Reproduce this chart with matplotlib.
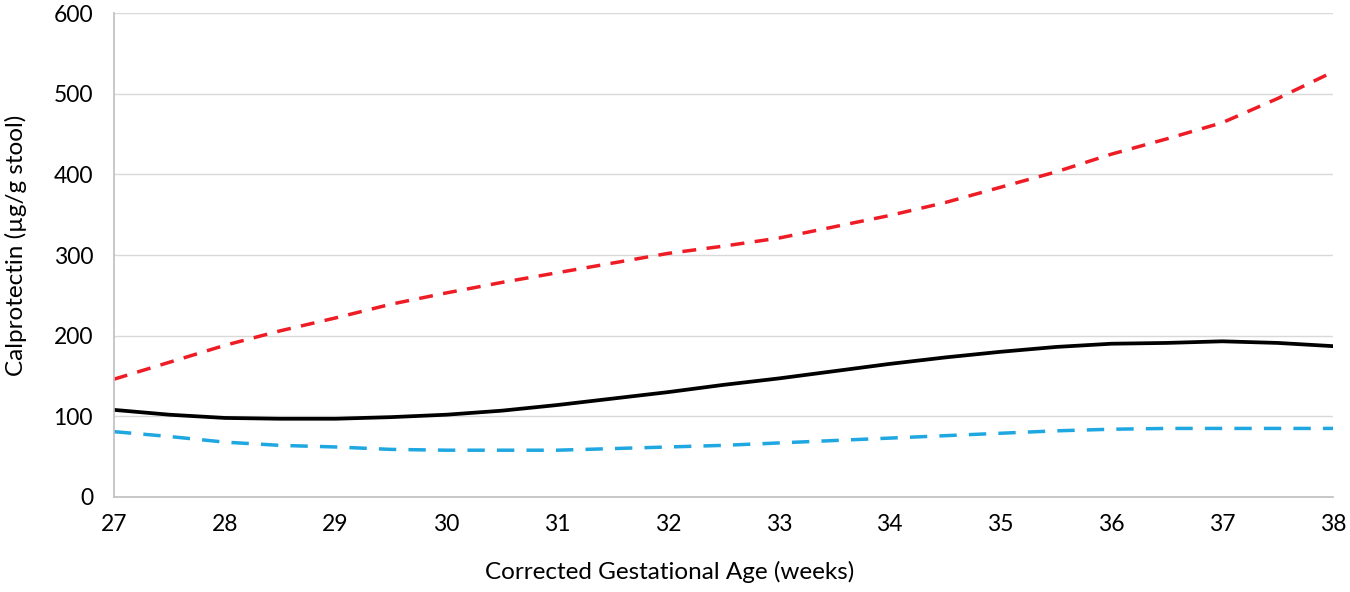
import matplotlib
matplotlib.use("Agg")
import matplotlib.pyplot as plt

plt.rcParams['font.family'] = ['Lato', 'DejaVu Sans']

# corrected gestational age (weeks), half-week steps
weeks = [27, 27.5, 28, 28.5, 29, 29.5, 30, 30.5, 31, 31.5, 32, 32.5,
         33, 33.5, 34, 34.5, 35, 35.5, 36, 36.5, 37, 37.5, 38]

upper = [146, 167, 188, 206, 222, 239, 253, 266, 278, 290, 302, 311,
         321, 335, 349, 365, 384, 403, 425, 444, 464, 494, 527]
median = [108, 102, 98, 97, 97, 99, 102, 107, 114, 122, 130, 139,
          147, 156, 165, 173, 180, 186, 190, 191, 193, 191, 187]
lower = [81, 75, 68, 64, 62, 59, 58, 58, 58, 60, 62, 64,
         67, 70, 73, 76, 79, 82, 84, 85, 85, 85, 85]

xticks = list(range(27, 39))
yticks = list(range(0, 601, 100))

fig = plt.figure(figsize=(13.5, 5.92), dpi=100)
ax = fig.add_axes([0.0844, 0.1605, 0.903, 0.8175])

ax.plot(weeks, upper, color='#ee1c25', lw=2.5, dashes=(4, 3))
ax.plot(weeks, median, color='black', lw=2.7)
ax.plot(weeks, lower, color='#1ea7e1', lw=2.5, dashes=(5, 3.5))

ax.set_xlim(27, 38)
ax.set_ylim(0, 600)
ax.set_xticks(xticks)
ax.set_yticks(yticks)
ax.tick_params(length=0, labelsize=16.5, colors='black')
ax.tick_params(axis='x', pad=12)
ax.tick_params(axis='y', pad=15)
ax.grid(axis='y', color='#d9d9d9', lw=1)
ax.set_axisbelow(True)

for s in ['top', 'right']:
    ax.spines[s].set_visible(False)
for s in ['left', 'bottom']:
    ax.spines[s].set_color('#bfbfbf')
    ax.spines[s].set_linewidth(1.2)

ax.set_xlabel('Corrected Gestational Age (weeks)', fontsize=17.5)
ax.set_ylabel('Calprotectin (µg/g stool)', fontsize=17.5)
ax.xaxis.set_label_coords(0.456, -0.133)
ax.yaxis.set_label_coords(-0.0715, 0.52)

fig.savefig('out.png', dpi=100)
